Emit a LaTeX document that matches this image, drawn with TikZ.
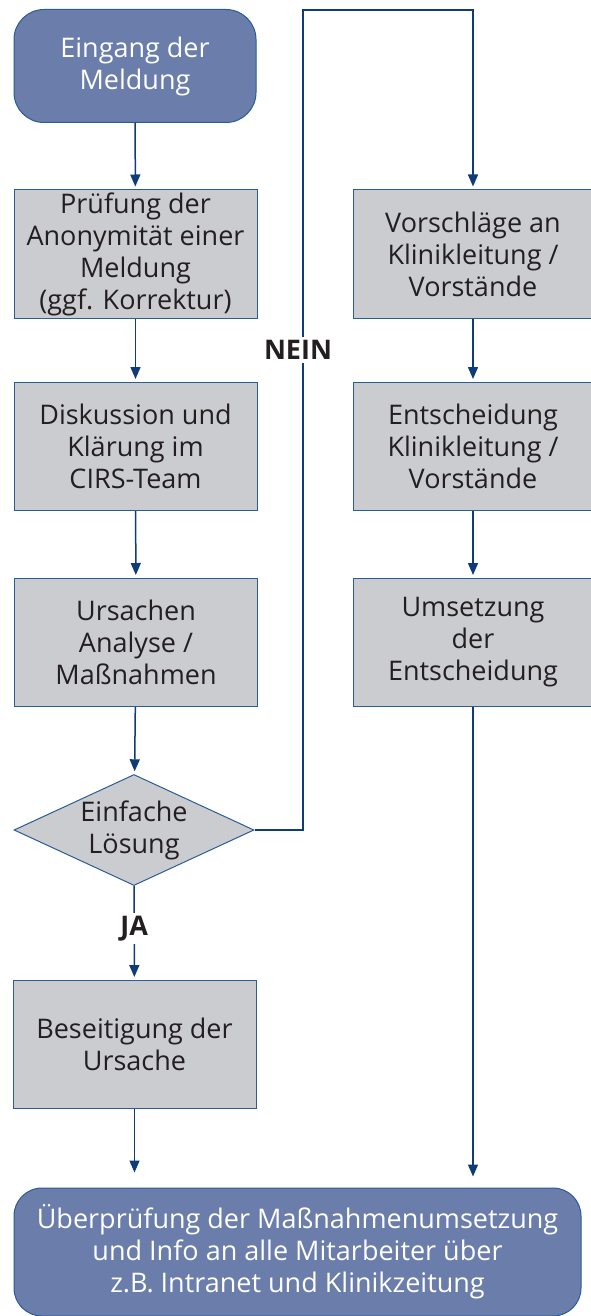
\documentclass[tikz,border=0pt]{standalone}
\usepackage{fontspec}
\setmainfont{Open Sans}
\usetikzlibrary{shapes.geometric,arrows.meta}
\definecolor{cirsblue}{HTML}{6A7DAB}
\definecolor{cirsline}{HTML}{2A5C96}
\definecolor{cirsarrow}{HTML}{0E3C78}
\definecolor{cirsgrey}{HTML}{CBCCD0}
\definecolor{cirstext}{HTML}{231F20}

\begin{document}
\begin{tikzpicture}
 [x=0.5pt, y=-0.5pt,
  every node/.style={font=\fontsize{13.5}{16}\selectfont, align=center, text=cirstext},
  rbox/.style={draw=cirsline, line width=0.5pt, fill=cirsblue, text=white,
    rounded corners=15pt, inner sep=0pt},
  pbox/.style={draw=cirsline, line width=0.5pt, fill=cirsgrey,
    minimum width=121.5pt, minimum height=64pt, inner sep=0pt},
  test/.style={draw=cirsline, line width=0.5pt, fill=cirsgrey, diamond,
    shape aspect=2.16, minimum width=120pt, minimum height=55.5pt, inner sep=0pt},
  arr/.style={draw=cirsarrow, line width=0.75pt,
    -{Triangle[width=5pt,length=6pt]}, shorten >=1.5pt},
  lbl/.style={fill=white, font=\fontsize{13.5}{16}\selectfont\bfseries, inner sep=1.5pt}]

  \useasboundingbox (0,0) rectangle (590,1316);

  % linke Spalte
  \node[rbox, minimum width=121pt, minimum height=56.5pt] at (135,66) (start)
    {Eingang der\\Meldung};
  \node[pbox] at (135.5,254) (pruef)
    {Prüfung der\\Anonymität einer\\Meldung\\(ggf. Korrektur)};
  \node[pbox] at (135.5,446.5) (disk) {Diskussion und\\Klärung im\\CIRS-Team};
  \node[pbox] at (136,642.5) (ursa) {Ursachen\\Analyse /\\Maßnahmen};
  \node[test] at (134,830) (einf) {Einfache\\Lösung};
  \node[pbox] at (134.5,1044.5) (beseit) {Beseitigung der\\Ursache};

  % rechte Spalte
  \node[pbox, minimum width=120pt] at (473,254) (vorsch)
    {Vorschläge an\\Klinikleitung /\\Vorstände};
  \node[pbox, minimum width=120pt] at (473,446.5) (entsch)
    {Entscheidung\\Klinikleitung /\\Vorstände};
  \node[pbox, minimum width=120pt] at (473,642.5) (umsetz)
    {Umsetzung\\der\\Entscheidung};

  \node[rbox, minimum width=283.5pt, minimum height=64pt, rounded corners=14pt]
    at (297.5,1252) (ende)
    {Überprüfung der Maßnahmenumsetzung\\und Info an alle Mitarbeiter über\\z.B. Intranet und Klinikzeitung};

  \foreach \a/\b in {start/pruef,pruef/disk,disk/ursa,ursa/einf,vorsch/entsch,entsch/umsetz}
    \draw[arr] (\a) -- (\b);

  \draw[arr] (einf) -- node[lbl, pos=0.45] {JA} (beseit);

  \coordinate (knick) at (303,10);
  \draw[arr] (einf.east) -| (knick) -| (vorsch);
  \node[lbl] at (298,350) (nein) {NEIN};

  \draw[arr, shorten >=7.5pt] (beseit) -- (beseit |- ende.north);
  \draw[arr, shorten >=5.5pt] (umsetz) -- (umsetz |- ende.north);
\end{tikzpicture}
\end{document}
